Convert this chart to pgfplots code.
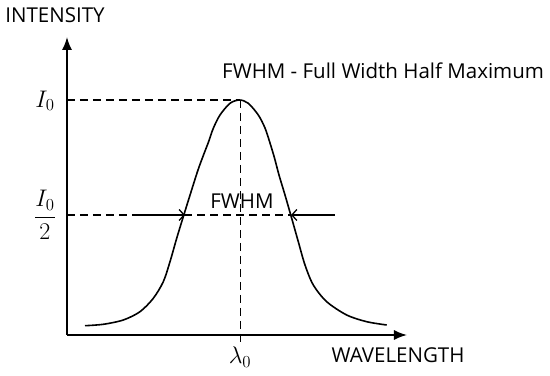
\RequirePackage{fix-cm}
\documentclass[border=0pt]{standalone}
\usepackage{fontspec}
\setmainfont{Open Sans}
\usepackage{pgfplots}
\pgfplotsset{compat=1.18}
\usetikzlibrary{arrows.meta}
\begin{document}
\fontsize{20.5bp}{24bp}\selectfont
\begin{tikzpicture}
\useasboundingbox (-67bp,-41bp) rectangle (483bp,335bp);
\begin{axis}[
  at={(0,0)}, anchor=south west,
  scale only axis, width=340bp, height=298bp,
  xmin=0, xmax=340, ymin=0, ymax=298,
  axis lines=left,
  axis line style={line width=1.6bp, -{Latex[length=13bp,width=10bp]}},
  xtick=\empty, ytick=\empty,
  clip=false,
]
% intensity profile
\addplot[line width=1.6bp, smooth] coordinates {
 (18,9.3) (36.3,10.7) (56.3,15) (73,23.3) (86.3,36.7) (96.3,53.3) (103,73.3)
 (109.7,96.7) (116.3,118.3) (124,143) (131,165) (136.5,180) (141.5,193)
 (146.3,206.7) (153,220) (163,231.7) (172.5,235)
 (181.3,231.7) (191.3,220) (198,207) (203,192) (207.5,177) (212,160)
 (218,140) (224.7,116.7) (231.3,93.3) (238,70) (246.3,50) (259.7,33.3)
 (279.7,20) (299.7,13.3) (319.7,10)
};
% dashed guides
\addplot[line width=1.3bp, dash pattern=on 8bp off 5bp] coordinates {(0,235) (172.5,235)};
\addplot[line width=1.4bp, dash pattern=on 8bp off 5bp] coordinates {(173.5,235) (173.5,-7)};
\addplot[line width=1.3bp, dash pattern=on 8bp off 5bp] coordinates {(0,120) (223,120)};
% FWHM arrows
\addplot[line width=1.3bp, -{Straight Barb[length=5bp,width=11bp]}] coordinates {(73,120) (118,120)};
\addplot[line width=1.3bp, -{Straight Barb[length=5bp,width=11bp]}] coordinates {(268,120) (224,120)};
% labels
\node at (axis cs:-12,320) {INTENSITY};
\node at (axis cs:331,-20) {WAVELENGTH};
\node[anchor=west, inner sep=0pt] at (axis cs:155,264) {FWHM - Full Width Half Maximum};
\node[inner sep=1pt] at (axis cs:175,133.5) {FWHM};
\node[font=\fontsize{24bp}{28bp}\selectfont] at (axis cs:-22,234) {$I_0$};
\node[font=\fontsize{24bp}{28bp}\selectfont] at (axis cs:-22,120) {$\displaystyle\frac{I_0}{2}$};
\node[font=\fontsize{24bp}{28bp}\selectfont] at (axis cs:173,-22) {$\lambda_0$};
\end{axis}
\end{tikzpicture}
\end{document}
